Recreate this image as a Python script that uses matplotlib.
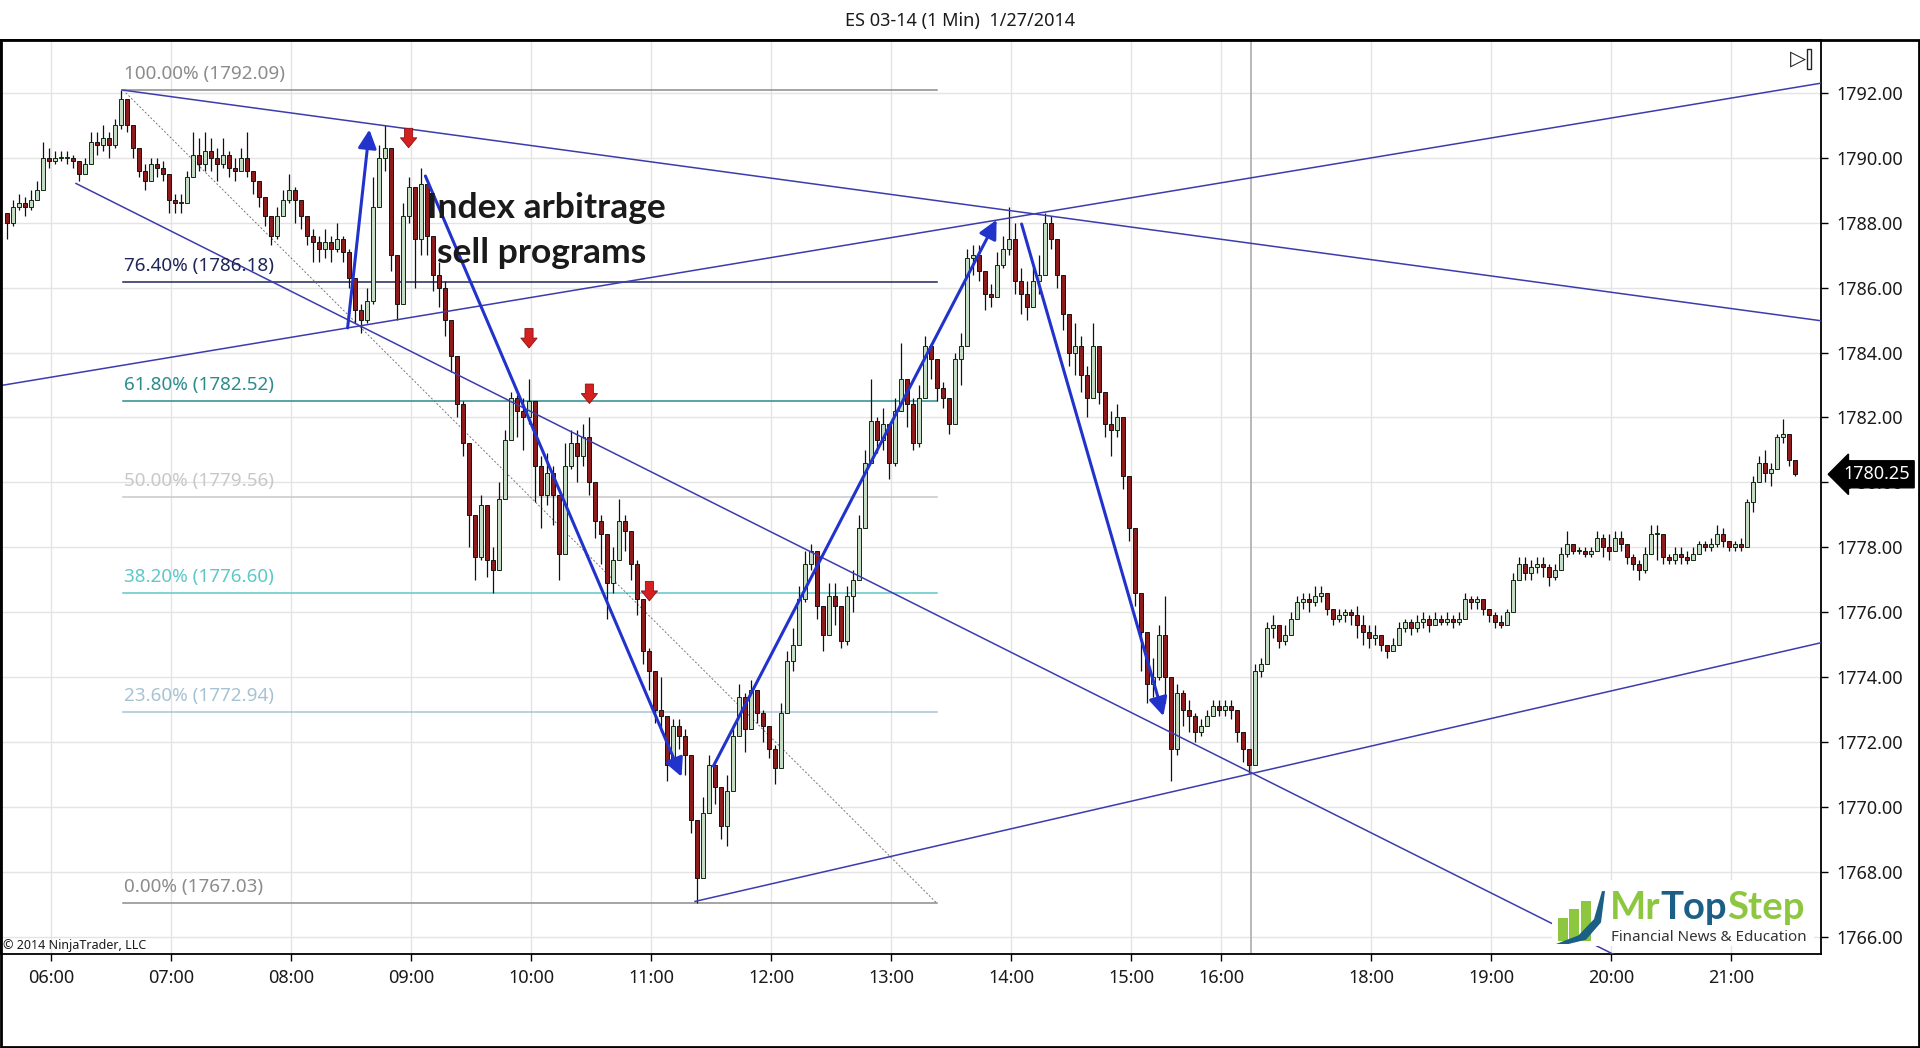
import matplotlib
matplotlib.use("Agg")
import matplotlib.pyplot as plt
import matplotlib.transforms as mtransforms
import numpy as np
from matplotlib.patches import Rectangle, Polygon

plt.rcParams['font.family'] = ['Noto Sans', 'DejaVu Sans']

TITLE = "ES 03-14 (1 Min)  1/27/2014"

# 3-minute candles, x = bar number counted from 06:00
FIRST_BAR = -22
BAR_STEP = 3
FIRST_OPEN = 1788.3
CLOSES = [
    1788.0, 1788.5, 1788.6, 1788.5, 1788.7, 1789.0, 1790.0, 1789.9,
    1790.0, 1790.0, 1790.0, 1789.9, 1789.5, 1789.8, 1790.5, 1790.4, 1790.6, 1790.4, 1791.0, 1791.8,
    1791.0, 1790.3, 1789.6, 1789.3, 1789.8, 1789.7, 1789.5, 1788.7, 1788.6, 1788.6, 1789.4,
    1790.1, 1789.8, 1790.2, 1790.0, 1789.8, 1790.1, 1789.7, 1789.6, 1790.0, 1789.6,
    1789.3, 1788.8, 1788.2, 1787.6, 1788.2, 1788.7, 1789.0, 1788.7, 1788.2, 1787.6,
    1787.4, 1787.2, 1787.4, 1787.2, 1787.5, 1787.1, 1786.3, 1785.3, 1785.0, 1785.6,
    1788.5, 1790.0, 1790.3, 1787.0, 1785.5, 1788.2, 1789.1, 1787.5, 1789.2, 1787.6, 1786.4, 1786.0, 1785.0, 1783.9,
    1782.4, 1781.2, 1779.0, 1777.7, 1779.3, 1777.6, 1777.3, 1779.5, 1781.3, 1782.6,
    1782.2, 1782.0, 1782.5, 1780.5, 1779.6, 1780.3, 1779.6, 1777.8, 1780.5, 1781.2,
    1780.8, 1781.4, 1780.0, 1778.8, 1778.4, 1776.9, 1777.6, 1778.8, 1778.5, 1777.5,
    1776.4, 1774.8, 1774.2, 1773.0, 1772.8, 1771.3, 1772.5, 1772.2, 1771.6, 1769.6,
    1767.8, 1769.8, 1771.3, 1770.6, 1769.4, 1770.5, 1772.2, 1773.4, 1772.4, 1773.6,
    1772.9, 1772.5, 1771.8, 1771.2, 1772.9, 1774.5, 1775.0, 1776.4, 1777.5, 1777.9,
    1776.2, 1775.3, 1776.5, 1776.2, 1775.1, 1776.5, 1777.0, 1778.6,
    1780.6, 1781.9, 1781.3, 1781.8, 1780.6, 1782.2, 1783.2, 1782.4,
    1781.2, 1782.6, 1784.2, 1783.8, 1782.9, 1782.6, 1781.8, 1783.8, 1784.2, 1786.9,
    1787.0, 1786.5, 1785.8, 1785.7, 1786.7, 1787.2, 1787.5, 1786.2, 1785.8, 1785.4,
    1786.2, 1786.4, 1788.0, 1787.5, 1786.4, 1785.2, 1784.0, 1784.2, 1783.3, 1782.6,
    1784.2, 1782.8, 1781.8, 1781.6, 1782.0, 1780.2, 1778.6, 1776.6, 1775.4, 1773.8,
    1774.0, 1775.3, 1774.0, 1771.8, 1773.5, 1773.0, 1772.8, 1772.3, 1772.5, 1772.8,
    1773.1, 1773.0, 1773.1, 1773.0, 1772.3, 1771.8, 1771.3, 1774.2, 1774.4, 1775.5,
    1775.6, 1775.1, 1775.3, 1775.8, 1776.3, 1776.4, 1776.3, 1776.5, 1776.6, 1776.1, 1775.8, 1775.9, 1776.0, 1775.9,
    1775.6, 1775.4, 1775.2, 1775.3, 1775.0, 1774.8, 1775.0, 1775.5, 1775.7, 1775.5,
    1775.7, 1775.8, 1775.6, 1775.8, 1775.7, 1775.8, 1775.7, 1775.8, 1776.4, 1776.3,
    1776.4, 1776.1, 1775.9, 1775.7, 1775.6, 1776.0, 1777.0, 1777.5, 1777.2, 1777.4,
    1777.5, 1777.4, 1777.1, 1777.3, 1777.8, 1778.1, 1777.9, 1777.9, 1777.8, 1777.9,
    1778.3, 1778.0, 1777.9, 1778.3, 1778.1, 1777.7, 1777.5, 1777.3, 1777.8, 1778.4,
    1778.4, 1777.7, 1777.6, 1777.8, 1777.7, 1777.6, 1777.8, 1778.1, 1778.0, 1778.1,
    1778.4, 1778.2, 1778.0, 1778.1, 1778.0, 1779.4, 1780.0, 1780.6, 1780.3, 1780.4, 1781.4, 1781.5, 1780.7, 1780.25,
]
HIGHS = [
    1788.3, 1788.7, 1788.9, 1788.8, 1789.0, 1789.3, 1790.5, 1790.3,
    1790.2, 1790.2, 1790.2, 1790.1, 1789.9, 1790.0, 1790.8, 1790.8, 1791.0, 1790.8, 1791.2, 1792.09,
    1791.8, 1791.0, 1790.1, 1789.8, 1790.0, 1790.0, 1789.9, 1789.3, 1788.9, 1788.9, 1789.6,
    1790.8, 1790.6, 1790.8, 1790.6, 1790.3, 1790.6, 1790.2, 1790.0, 1790.3, 1790.8,
    1789.6, 1789.3, 1788.8, 1788.1, 1788.5, 1789.0, 1789.5, 1789.1, 1788.7, 1788.1,
    1787.8, 1787.6, 1787.8, 1787.6, 1788.0, 1787.6, 1787.2, 1786.3, 1785.5, 1786.0,
    1789.4, 1790.4, 1791.0, 1790.3, 1787.0, 1788.6, 1789.4, 1789.0, 1789.7, 1789.2, 1787.6, 1786.8, 1786.2, 1785.0,
    1783.5, 1782.5, 1781.2, 1779.0, 1779.6, 1779.3, 1778.0, 1780.0, 1781.6, 1782.8,
    1782.7, 1782.6, 1783.2, 1782.5, 1780.8, 1780.9, 1780.5, 1779.6, 1781.2, 1781.6,
    1781.6, 1781.8, 1782.0, 1780.0, 1779.0, 1778.4, 1778.0, 1779.5, 1779.0, 1778.5,
    1777.6, 1776.4, 1774.9, 1774.2, 1774.0, 1772.8, 1772.7, 1772.7, 1772.4, 1771.6,
    1769.6, 1770.3, 1771.6, 1771.3, 1770.6, 1771.0, 1772.5, 1773.8, 1773.5, 1773.9,
    1773.6, 1773.0, 1772.5, 1771.9, 1773.2, 1774.8, 1775.5, 1776.8, 1777.9, 1778.1,
    1777.9, 1776.2, 1776.9, 1776.9, 1776.2, 1776.8, 1777.3, 1779.0,
    1781.0, 1783.2, 1782.0, 1782.3, 1781.8, 1782.6, 1784.3, 1783.0,
    1782.6, 1783.0, 1784.5, 1784.3, 1783.8, 1783.1, 1782.6, 1784.0, 1784.6, 1787.2,
    1787.3, 1787.3, 1786.5, 1786.1, 1787.1, 1787.6, 1788.5, 1788.0, 1786.6, 1786.2,
    1786.6, 1787.0, 1788.3, 1788.2, 1787.5, 1786.4, 1785.2, 1784.9, 1784.5, 1783.6,
    1784.9, 1784.2, 1782.8, 1782.2, 1782.4, 1782.0, 1780.2, 1778.6, 1776.6, 1775.4,
    1774.6, 1775.6, 1776.5, 1774.0, 1773.8, 1773.6, 1773.3, 1772.9, 1772.7, 1773.0,
    1773.3, 1773.3, 1773.3, 1773.3, 1773.0, 1772.3, 1771.8, 1774.4, 1774.6, 1775.7,
    1775.9, 1775.6, 1775.6, 1776.0, 1776.5, 1776.6, 1776.6, 1776.8, 1776.8, 1776.6, 1776.1, 1776.1, 1776.1, 1776.1,
    1776.2, 1775.9, 1775.6, 1775.6, 1775.3, 1775.0, 1775.2, 1775.7, 1775.8, 1775.8,
    1775.9, 1776.0, 1775.9, 1776.0, 1775.9, 1776.0, 1775.9, 1776.0, 1776.6, 1776.5,
    1776.5, 1776.4, 1776.1, 1776.0, 1775.9, 1776.1, 1777.2, 1777.7, 1777.7, 1777.6,
    1777.7, 1777.7, 1777.5, 1777.5, 1778.0, 1778.5, 1778.0, 1778.0, 1778.0, 1778.0,
    1778.5, 1778.4, 1778.4, 1778.5, 1778.5, 1778.1, 1777.8, 1777.6, 1778.0, 1778.7,
    1778.7, 1778.2, 1777.8, 1778.0, 1778.0, 1777.9, 1778.0, 1778.2, 1778.2, 1778.3,
    1778.7, 1778.6, 1778.2, 1778.2, 1778.3, 1779.5, 1780.2, 1780.8, 1781.0, 1780.6, 1781.5, 1781.95, 1781.5, 1780.7,
]
LOWS = [
    1787.5, 1787.9, 1788.4, 1788.2, 1788.4, 1788.7, 1789.0, 1789.7,
    1789.8, 1789.9, 1789.8, 1789.7, 1789.3, 1789.5, 1789.8, 1790.1, 1790.2, 1790.0, 1790.3, 1790.9,
    1790.8, 1790.0, 1789.4, 1789.0, 1789.3, 1789.4, 1789.3, 1788.3, 1788.3, 1788.3, 1788.6,
    1789.4, 1789.6, 1789.6, 1789.6, 1789.3, 1789.7, 1789.4, 1789.3, 1789.6, 1789.4,
    1788.9, 1788.5, 1787.9, 1787.3, 1787.5, 1788.3, 1788.6, 1788.0, 1787.8, 1787.3,
    1786.8, 1786.8, 1786.9, 1786.8, 1787.1, 1786.8, 1786.0, 1784.9, 1784.6, 1784.9,
    1785.5, 1788.5, 1789.6, 1786.5, 1785.0, 1785.5, 1788.0, 1786.0, 1787.0, 1787.0, 1785.9, 1785.4, 1784.5, 1783.4,
    1782.0, 1780.8, 1778.0, 1777.0, 1777.6, 1777.1, 1776.6, 1777.3, 1779.5, 1781.3,
    1781.4, 1781.0, 1781.8, 1779.4, 1778.6, 1779.3, 1778.7, 1777.0, 1777.8, 1780.4,
    1780.0, 1780.5, 1779.6, 1778.3, 1777.5, 1775.8, 1776.6, 1777.6, 1777.9, 1777.0,
    1775.9, 1774.4, 1773.6, 1772.6, 1772.3, 1770.8, 1771.3, 1771.8, 1771.0, 1769.2,
    1767.03, 1767.8, 1769.8, 1770.1, 1769.0, 1768.8, 1770.5, 1772.2, 1771.7, 1772.4,
    1772.6, 1772.0, 1771.5, 1770.7, 1771.2, 1772.9, 1774.2, 1775.0, 1776.3, 1777.3,
    1775.8, 1774.8, 1775.3, 1775.6, 1774.9, 1775.0, 1776.0, 1777.0,
    1778.6, 1780.6, 1780.9, 1781.0, 1780.1, 1780.5, 1782.4, 1781.7,
    1781.0, 1781.1, 1782.6, 1783.2, 1782.5, 1782.3, 1781.5, 1781.8, 1783.0, 1784.2,
    1786.4, 1786.2, 1785.3, 1785.4, 1785.7, 1786.6, 1787.0, 1785.8, 1785.2, 1785.0,
    1785.6, 1785.8, 1786.4, 1787.2, 1786.0, 1784.7, 1783.6, 1783.3, 1782.8, 1782.0,
    1782.6, 1782.4, 1781.4, 1780.8, 1781.4, 1779.8, 1778.2, 1776.2, 1774.2, 1773.2,
    1773.4, 1773.9, 1773.2, 1770.8, 1771.6, 1772.5, 1772.3, 1772.0, 1772.2, 1772.5,
    1772.8, 1772.8, 1772.8, 1772.7, 1772.0, 1771.4, 1771.06, 1771.3, 1774.0, 1774.6,
    1775.2, 1774.9, 1775.0, 1775.3, 1775.8, 1776.1, 1776.0, 1776.2, 1776.3, 1775.9, 1775.6, 1775.7, 1775.7, 1775.6,
    1775.2, 1775.0, 1774.9, 1775.0, 1774.8, 1774.6, 1774.8, 1775.0, 1775.4, 1775.3,
    1775.4, 1775.5, 1775.4, 1775.6, 1775.6, 1775.6, 1775.5, 1775.6, 1775.8, 1776.1,
    1776.1, 1775.9, 1775.7, 1775.5, 1775.5, 1775.6, 1776.0, 1777.0, 1777.0, 1777.0,
    1777.2, 1777.1, 1776.8, 1777.0, 1777.3, 1777.7, 1777.8, 1777.8, 1777.7, 1777.7,
    1777.9, 1777.7, 1777.6, 1778.0, 1777.9, 1777.5, 1777.3, 1777.0, 1777.2, 1777.8,
    1777.6, 1777.5, 1777.5, 1777.5, 1777.5, 1777.5, 1777.6, 1777.9, 1777.9, 1777.9,
    1778.0, 1778.0, 1777.9, 1777.9, 1777.9, 1778.0, 1779.1, 1780.0, 1780.0, 1779.9, 1780.4, 1781.2, 1780.5, 1780.2,
]

TICK_BARS = [0, 60, 120, 180, 240, 300, 360, 420, 480, 540, 585, 660, 720, 780, 840]
TICK_LABELS = ["06:00", "07:00", "08:00", "09:00", "10:00", "11:00", "12:00", "13:00",
               "14:00", "15:00", "16:00", "18:00", "19:00", "20:00", "21:00"]
SESSION_BREAK = 600
PRICE_TICKS = [1766, 1768, 1770, 1772, 1774, 1776, 1778, 1780, 1782, 1784, 1786, 1788, 1790, 1792]

FIB_START, FIB_END = 36, 443
FIB_PCTS = [100.0, 76.4, 61.8, 50.0, 38.2, 23.6, 0.0]
FIB_PRICES = [1792.09, 1786.18, 1782.52, 1779.56, 1776.60, 1772.94, 1767.03]
FIB_COLORS = ['#8c8c8c', '#1e2658', '#2c8c8c', '#c8c8c8', '#5ec8c8', '#a7c3d3', '#8c8c8c']

TREND_LINES = [
    ((35.5, 1792.09), (885, 1784.98)),
    ((-25.5, 1782.98), (885, 1792.30)),
    ((12.5, 1789.21), (800, 1764.88)),
    ((322, 1767.09), (885, 1775.06)),
]
MOVE_ARROWS = [
    ((148.3, 1784.76), (159.2, 1790.87)),
    ((187.2, 1789.44), (315.3, 1770.93)),
    ((331.2, 1771.26), (472.8, 1788.09)),
    ((485.3, 1787.96), (556.2, 1772.80)),
]
SELL_MARKS = [(178.8, 1790.31), (239.0, 1784.14), (269.2, 1782.43), (299.2, 1776.35)]
LAST_PRICE = 1780.25

LOGO_WORDS = [("Mr", '#8dc63f'), ("Top", '#1b5e86'), ("Step", '#8dc63f')]


def draw_candles(ax):
    closes = np.array(CLOSES)
    opens = np.r_[FIRST_OPEN, closes[:-1]]
    x = FIRST_BAR + BAR_STEP * np.arange(len(closes))
    highs = np.maximum(np.array(HIGHS), np.maximum(opens, closes))
    lows = np.minimum(np.array(LOWS), np.minimum(opens, closes))
    up = closes >= opens
    bottom = np.minimum(opens, closes)
    height = np.maximum(np.abs(closes - opens), 0.03)

    ax.vlines(x, lows, highs, color='#111111', lw=0.9, zorder=3)
    ax.bar(x[up], height[up], bottom=bottom[up], width=2.1, color='#c3dcc3',
           edgecolor='#0f2a0f', linewidth=0.7, zorder=4)
    ax.bar(x[~up], height[~up], bottom=bottom[~up], width=2.1, color='#8c1b1b',
           edgecolor='#141414', linewidth=0.7, zorder=4)


def draw_logo(fig):
    W, H = 1920, 1048
    fig.add_artist(Rectangle((1552 / W, 1 - 946 / H), 262 / W, 66 / H,
                             transform=fig.transFigure, fc='white', ec='none', zorder=20))
    icon = fig.add_axes([1556 / W, 1 - 944 / H, 50 / W, 54 / H], zorder=21)
    icon.set_xlim(0, 10)
    icon.set_ylim(0, 10)
    icon.axis('off')
    for bx, bh in [(0.3, 4.2), (2.6, 5.8), (4.9, 7.4)]:
        icon.add_patch(Rectangle((bx, 0.6), 2.0, bh, fc='#8dc63f', ec='none'))
    icon.add_patch(Polygon([(0.0, 0.0), (4.5, 1.6), (7.6, 4.6), (9.2, 9.8), (9.8, 9.8),
                            (9.0, 4.0), (6.0, 0.8), (2.5, 0.0)], fc='#1b5e86', ec='none'))

    # word by word so each part of the name gets its own colour
    renderer = fig.canvas.get_renderer()
    x = 1610 / W
    for word, col in LOGO_WORDS:
        t = fig.text(x, 1 - 919 / H, word, color=col, fontsize=27.5, weight='bold',
                     family=['Lato', 'DejaVu Sans'], va='baseline', zorder=22)
        x = t.get_window_extent(renderer).x1 / fig.bbox.width
    fig.text(1611 / W, 1 - 941 / H, "Financial News & Education", color='#333333',
             fontsize=10.9, va='baseline', zorder=22)


def main():
    W, H = 1920, 1048
    fig = plt.figure(figsize=(19.2, 10.48), dpi=100)
    ax = fig.add_axes([0, 1 - 954 / H, 1821 / W, (954 - 40) / H])
    ax.set_xlim(-25.5, 885)
    ax.set_ylim(1765.47, 1793.63)

    for p in PRICE_TICKS:
        ax.axhline(p, color='#e4e4e4', lw=1, zorder=0)
    for b in TICK_BARS:
        ax.axvline(b, color='#e4e4e4', lw=1, zorder=0)
    ax.axvline(SESSION_BREAK, color='#b8b8b8', lw=1.4, zorder=0)

    # fibonacci retracement
    for pct, price, col in zip(FIB_PCTS, FIB_PRICES, FIB_COLORS):
        ax.plot([FIB_START, FIB_END], [price, price], color=col, lw=1.1, zorder=2)
        ax.annotate(f"{pct:.2f}% ({price:.2f})", xy=(FIB_START + 0.5, price),
                    xytext=(0, 5), textcoords='offset points', color=col,
                    fontsize=13.6, va='bottom', ha='left', zorder=6)
    ax.plot([FIB_START, FIB_END], [FIB_PRICES[0], FIB_PRICES[-1]], color='#777777',
            lw=0.7, ls=(0, (2, 2)), zorder=2)

    draw_candles(ax)

    for (x0, y0), (x1, y1) in TREND_LINES:
        ax.plot([x0, x1], [y0, y1], color='#3c3cae', lw=1.1, zorder=5)
    for (x0, y0), (x1, y1) in MOVE_ARROWS:
        ax.annotate('', xy=(x1, y1), xytext=(x0, y0),
                    arrowprops=dict(arrowstyle='-|>', color='#2233cc', lw=2.2,
                                    mutation_scale=28, shrinkA=0, shrinkB=0), zorder=7)
    for x, tip in SELL_MARKS:
        ax.annotate('', xy=(x, tip), xytext=(x, tip + 0.6),
                    arrowprops=dict(arrowstyle='simple,head_length=0.55,head_width=0.9,tail_width=0.45',
                                    fc='#d42020', ec='#8a1212', lw=0.6,
                                    mutation_scale=13, shrinkA=0, shrinkB=0), zorder=7)

    ax.text(188, 1788.15, "Index arbitrage", fontsize=25.5, weight='bold',
            family=['Lato', 'DejaVu Sans'], color='#1a1a1a', va='baseline', zorder=8)
    ax.text(193, 1786.76, "sell programs", fontsize=25.5, weight='bold',
            family=['Lato', 'DejaVu Sans'], color='#1a1a1a', va='baseline', zorder=8)

    # axes styling
    ax.yaxis.tick_right()
    ax.set_yticks(PRICE_TICKS)
    ax.set_yticklabels([f"{p:.2f}" for p in PRICE_TICKS])
    ax.set_xticks(TICK_BARS)
    ax.set_xticklabels(TICK_LABELS)
    ax.tick_params(axis='both', direction='out', length=5, width=1, color='black',
                   labelsize=13, labelcolor='#1a1a1a')
    ax.tick_params(axis='y', pad=6)
    ax.tick_params(axis='x', pad=6)
    for s in ax.spines.values():
        s.set_color('black')
        s.set_linewidth(1.3)

    trans = mtransforms.blended_transform_factory(ax.transAxes, ax.transData)
    ax.text(1 + 22 / 1821, LAST_PRICE, f"{LAST_PRICE:.2f}", transform=trans, color='white',
            fontsize=13, va='center', ha='left', zorder=30, clip_on=False,
            bbox=dict(boxstyle='larrow,pad=0.25', fc='black', ec='black'))

    fig.text(0.5, 1 - 21 / H, TITLE, ha='center', va='center', fontsize=13, color='#1a1a1a')
    fig.text(3 / W, 1 - 946 / H, "\u00a9 2014 NinjaTrader, LLC", fontsize=9,
             va='center', ha='left', color='#1a1a1a')
    fig.text(1790 / W, 1 - 59 / H, "\u25b7", fontsize=15, va='center', ha='left',
             family='DejaVu Sans', color='#222222')
    fig.add_artist(Rectangle((1807 / W, 1 - 69 / H), 4 / W, 20 / H, transform=fig.transFigure,
                             fill=False, ec='#222222', lw=1))

    draw_logo(fig)

    fig.add_artist(Rectangle((0.0005, 0.0005), 0.999, 1 - 40 / H - 0.0005,
                             transform=fig.transFigure, fill=False, ec='black', lw=2, zorder=50))

    fig.savefig("out.png", dpi=100)
    plt.close(fig)


if __name__ == "__main__":
    main()
